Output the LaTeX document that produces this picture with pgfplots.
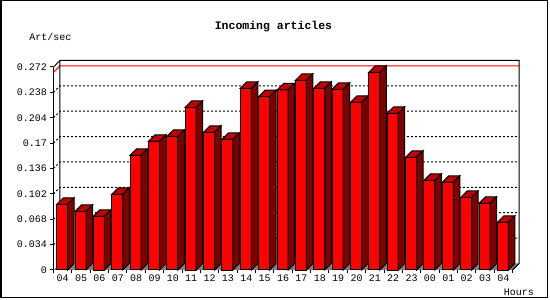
\documentclass[border=0pt]{standalone}
\usepackage{fontspec}
\setmainfont{Liberation Mono}
\usepackage{pgfplots}
\usepackage{pgfplotstable}
\pgfplotsset{compat=1.18}
\definecolor{barfront}{HTML}{FF0000}
\definecolor{bartop}{HTML}{C00000}
\definecolor{barside}{HTML}{800000}
\definecolor{floorgray}{HTML}{808080}

\pgfplotstableread{
x v
0 0.0880
1 0.0786
2 0.0720
3 0.1014
4 0.1537
5 0.1724
6 0.1790
7 0.2180
8 0.1845
9 0.1750
10 0.2434
11 0.2322
12 0.2412
13 0.2541
14 0.2434
15 0.2421
16 0.2247
17 0.2649
18 0.2100
19 0.1510
20 0.1201
21 0.1175
22 0.0974
23 0.0893
24 0.0639
}\artdata

\newcommand\bdepth{6.5}
\newcommand\yunit{746.3235}

\pgfdeclareplotmark{bar3d}{%
  \pgfmathsetmacro\bh{\bv*\yunit}%
  \pgfsetlinewidth{1pt}%
  \pgfsetstrokecolor{black}%
  \pgfsetfillcolor{barfront}%
  \pgfpathrectanglecorners{\pgfpoint{-6pt}{-\bh pt}}{\pgfpoint{5pt}{0pt}}%
  \pgfusepath{fill,stroke}%
  \pgfsetfillcolor{bartop}%
  \pgfpathmoveto{\pgfpoint{-6pt}{0pt}}%
  \pgfpathlineto{\pgfpoint{5pt}{0pt}}%
  \pgfpathlineto{\pgfpoint{5pt+\bdepth pt}{\bdepth pt}}%
  \pgfpathlineto{\pgfpoint{-6pt+\bdepth pt}{\bdepth pt}}%
  \pgfpathclose
  \pgfusepath{fill,stroke}%
  \pgfsetfillcolor{barside}%
  \pgfpathmoveto{\pgfpoint{5pt}{0pt}}%
  \pgfpathlineto{\pgfpoint{5pt+\bdepth pt}{\bdepth pt}}%
  \pgfpathlineto{\pgfpoint{5pt+\bdepth pt}{\bdepth pt-\bh pt}}%
  \pgfpathlineto{\pgfpoint{5pt}{-\bh pt}}%
  \pgfpathclose
  \pgfusepath{fill,stroke}%
}

\begin{document}
\begin{tikzpicture}
\useasboundingbox (0,0) rectangle (550pt,300pt);
\draw[line width=1.5pt] (0.75pt,2.25pt) rectangle (547.5pt,299.25pt);
\node[font=\bfseries\fontsize{11.5}{13}\selectfont] at (273.5pt,273.3pt) {Incoming articles};
\node[font=\fontsize{10}{12}\selectfont] at (50.5pt,263.3pt) {Art/sec};
\node[font=\fontsize{10}{12}\selectfont] at (519pt,8pt) {Hours};
\begin{axis}[
  at={(53.5pt,30pt)}, anchor=south west,
  scale only axis, width=459.1pt, height=203pt,
  xmin=-0.5, xmax=24.5, ymin=0, ymax=0.272,
  clip=false,
  axis x line*=bottom, axis y line*=left,
  axis line style={line width=1pt, black},
  ytick={0,0.034,0.068,0.102,0.136,0.17,0.204,0.238,0.272},
  yticklabels={0,0.034,0.068,0.102,0.136,0.17,0.204,0.238,0.272},
  xtick={0,...,24},
  xticklabels={04,05,06,07,08,09,10,11,12,13,14,15,16,17,18,19,20,21,22,23,00,01,02,03,04},
  minor xtick={-0.5,0.5,...,24.5},
  tick align=outside,
  major tick length=3pt, minor tick length=3pt,
  tick style={black, line width=1pt},
  major x tick style={draw=none},
  tick label style={font=\fontsize{10}{12}\selectfont},
  xticklabel style={yshift=1.5pt},
]
% floor
\fill[floorgray] (axis cs:-0.5,0) -- (axis cs:24.5,0) -- ([shift={(\bdepth pt,\bdepth pt)}]axis cs:24.5,0) -- ([shift={(\bdepth pt,\bdepth pt)}]axis cs:-0.5,0) -- cycle;
% grid lines on back wall
\pgfplotsinvokeforeach{0.034,0.068,0.102,0.136,0.17,0.204,0.238}{
  \draw[line width=1pt, dash pattern=on 2pt off 2pt] (axis cs:-0.5,#1) -- ([shift={(\bdepth pt,\bdepth pt)}]axis cs:-0.5,#1) -- ([shift={(\bdepth pt,\bdepth pt)}]axis cs:24.5,#1);
}
% maximum line
\draw[line width=1pt, red] (axis cs:-0.5,0.2649) -- ([shift={(\bdepth pt,\bdepth pt)}]axis cs:-0.5,0.2649) -- ([shift={(\bdepth pt,\bdepth pt)}]axis cs:24.5,0.2649);
% back wall box
\draw[line width=1pt] ([shift={(\bdepth pt,\bdepth pt)}]axis cs:-0.5,0) -- ([shift={(\bdepth pt,\bdepth pt)}]axis cs:-0.5,0.272) -- ([shift={(\bdepth pt,\bdepth pt)}]axis cs:24.5,0.272) -- ([shift={(\bdepth pt,\bdepth pt)}]axis cs:24.5,0) -- (axis cs:24.5,0);
\draw[line width=1pt] (axis cs:-0.5,0.272) -- ([shift={(\bdepth pt,\bdepth pt)}]axis cs:-0.5,0.272);
% bars
\addplot[scatter, only marks, mark=bar3d,
  scatter/use mapped color={draw=black, fill=barfront},
  visualization depends on={\thisrow{v} \as \bv}]
  table[x=x, y=v] {\artdata};
\end{axis}
\end{tikzpicture}
\end{document}
